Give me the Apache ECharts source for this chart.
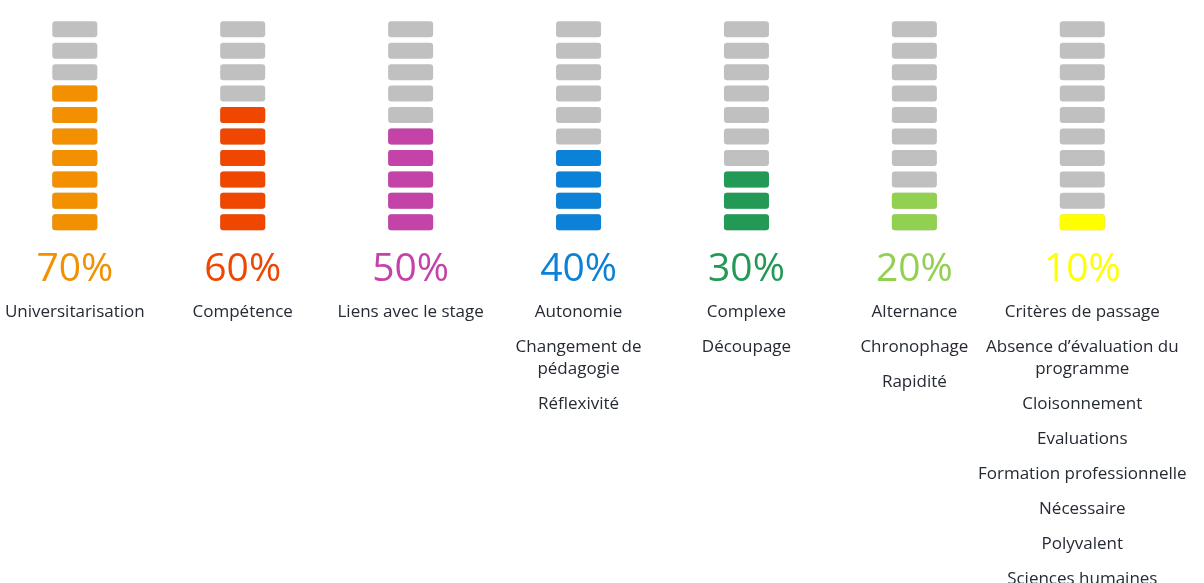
<!DOCTYPE html>
<html>
<head>
<meta charset="utf-8">
<script src="https://cdn.jsdelivr.net/npm/echarts@6/dist/echarts.min.js"></script>
<style>
html,body{margin:0;padding:0;background:#fff;}
#chart{width:1204px;height:583px;}
</style>
</head>
<body>
<div id="chart"></div>
<script>
const percents = [70, 60, 50, 40, 30, 20, 10];
const segmentsTotal = 10;
const terms = [
  ['Universitarisation'],
  ['Compétence'],
  ['Liens avec le stage'],
  ['Autonomie', 'Changement de\npédagogie', 'Réflexivité'],
  ['Complexe', 'Découpage'],
  ['Alternance', 'Chronophage', 'Rapidité'],
  ['Critères de passage', 'Absence d’évaluation du\nprogramme', 'Cloisonnement', 'Evaluations', 'Formation professionnelle', 'Nécessaire', 'Polyvalent', 'Sciences humaines']
];
const colors = ['#F39000', '#EF4600', '#C443A8', '#0B82D8', '#229A55', '#92D050', '#FFFF00'];
const categories = percents.map(p => p + '%');

const chart = echarts.init(document.getElementById('chart'));

const rich = {
  g: { height: 11, lineHeight: 11 },
  s: { height: 13, lineHeight: 13 },
  t: { fontSize: 17, lineHeight: 22, color: '#252a33', fontFamily: 'Open Sans' }
};
colors.forEach((c, i) => {
  rich['p' + i] = { fontSize: 39, lineHeight: 40, color: c, fontFamily: 'Open Sans' };
});

const segPath = 'path://M3,0 H42 A3,3 0 0 1 45,3 V13 A3,3 0 0 1 42,16 H3 A3,3 0 0 1 0,13 V3 A3,3 0 0 1 3,0 Z';
const common = {
  type: 'pictorialBar',
  symbol: segPath,
  symbolSize: [45, 16],
  symbolMargin: '2.95!',
  symbolRepeat: true,
  symbolBoundingData: segmentsTotal,
  barGap: '-100%',
  silent: true
};

chart.setOption({
  animation: false,
  grid: { left: 74.8, right: 121.7, top: 18.5, bottom: 350, outerBoundsMode: 'none', containLabel: false },
  xAxis: {
    type: 'category',
    data: categories,
    boundaryGap: false,
    axisLine: { show: false },
    axisTick: { show: false },
    splitLine: { show: false },
    axisLabel: {
      interval: 0,
      margin: 17,
      hideOverlap: false,
      formatter: function (value, idx) {
        let s = '{p' + idx + '|' + value + '}\n{g|}';
        terms[idx].forEach((t, k) => {
          if (k > 0) s += '\n{s|}';
          s += t.split('\n').map(line => '\n{t|' + line + '}').join('');
        });
        return s;
      },
      rich: rich
    }
  },
  yAxis: {
    type: 'value',
    min: 0,
    max: segmentsTotal,
    show: false,
    splitLine: { show: false }
  },
  series: [
    Object.assign({}, common, {
      itemStyle: { color: '#C0C0C0' },
      data: percents.map(() => segmentsTotal),
      z: 1
    }),
    Object.assign({}, common, {
      data: percents.map((p, i) => ({
        value: p / 10,
        itemStyle: { color: colors[i] }
      })),
      z: 2
    })
  ]
});
</script>
</body>
</html>
